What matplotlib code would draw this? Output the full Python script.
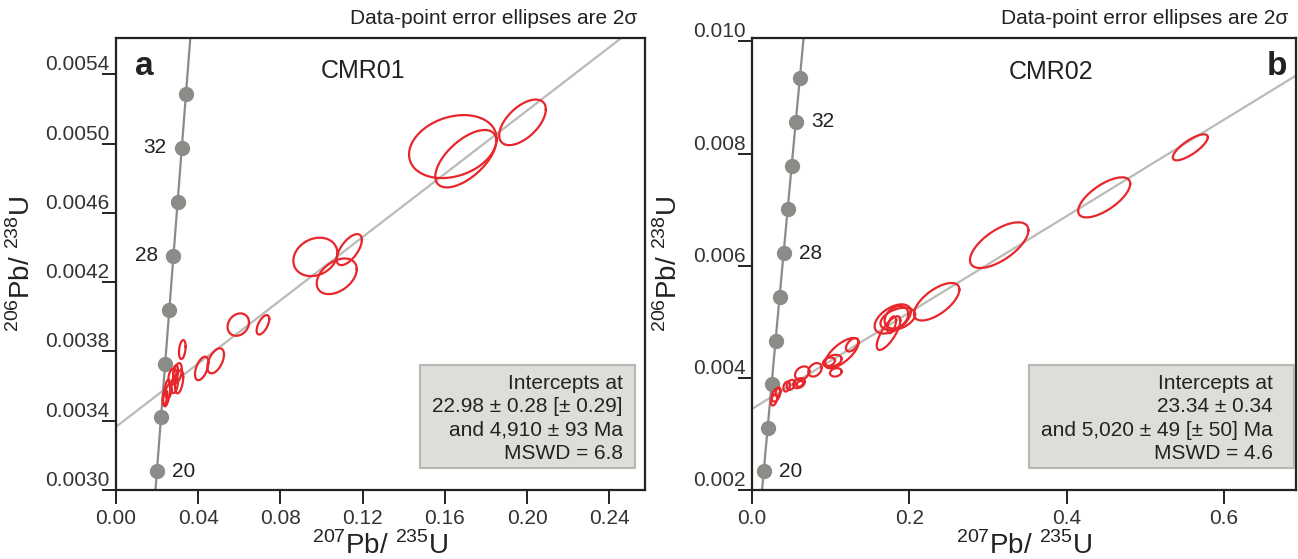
import matplotlib
matplotlib.use("Agg")
import matplotlib.pyplot as plt
import numpy as np
from matplotlib.ticker import FormatStrFormatter
from matplotlib.patches import Rectangle

plt.rcParams['font.family'] = ['Liberation Sans', 'DejaVu Sans']
plt.rcParams['mathtext.fontset'] = 'custom'
plt.rcParams['mathtext.rm'] = 'Liberation Sans'

# ---- panel a : CMR01 ----
conc_a_x = [0.01989, 0.02190, 0.02392, 0.02594, 0.02796, 0.02999, 0.03202, 0.03405]
conc_a_y = [0.003107, 0.003419, 0.003730, 0.004041, 0.004353, 0.004665, 0.004976, 0.005288]
conc_a_ends_x = [0.01856, 0.03674]
conc_a_ends_y = [0.00290, 0.00570]
conc_a_lab_idx = [0, 4, 6]
conc_a_lab_txt = ["20", "28", "32"]
conc_a_lab_side = [1, -1, -1]
disc_a = (0.003365, 0.00913)   # intercept, slope

ell_a_x = [0.1639, 0.1702, 0.1978, 0.0970, 0.1135, 0.1074, 0.0595, 0.0715, 0.03226, 0.0485, 0.0417,
           0.0299, 0.0307, 0.0275, 0.0247, 0.0255, 0.0238, 0.0285, 0.0290]
ell_a_y = [0.004983, 0.004913, 0.005123, 0.004346, 0.004388, 0.004234, 0.003955, 0.003954, 0.003811,
           0.003746, 0.003702, 0.003675, 0.003625, 0.003654, 0.003560, 0.003569, 0.003534, 0.003610, 0.003680]
ell_a_hx = [0.02131, 0.01484, 0.01134, 0.01071, 0.00613, 0.00973, 0.00521, 0.00307, 0.0016, 0.00404, 0.00326,
            0.0021, 0.0020, 0.0020, 0.0017, 0.0015, 0.0011, 0.0016, 0.0012]
ell_a_hy = [0.0001818, 0.0001657, 0.0001316, 0.0001108, 0.0000895, 0.0001027, 0.0000646, 0.000056, 0.0000548,
            0.0000722, 0.0000675, 0.0000577, 0.000067, 0.000048, 0.000077, 0.00004, 0.000043, 0.00005, 0.00004]
ell_a_rho = [0.25, 0.62, 0.57, 0.2, 0.63, 0.4, 0.2, 0.6, 0.3, 0.5, 0.5,
             0.4, 0.4, 0.3, 0.5, 0.3, 0.4, 0.3, 0.2]

# ---- panel b : CMR02 ----
conc_b_x = [0.01488, 0.01989, 0.02493, 0.02999, 0.03507, 0.04018, 0.04532, 0.05048, 0.05566, 0.06087]
conc_b_y = [0.002330, 0.003107, 0.003886, 0.004665, 0.005444, 0.006224, 0.007005, 0.007786, 0.008568, 0.009351]
conc_b_ends_x = [0.01213, 0.06655]
conc_b_ends_y = [0.00190, 0.01020]
conc_b_lab_idx = [0, 5, 8]
conc_b_lab_txt = ["20", "28", "32"]
conc_b_lab_side = [1, 1, 1]
disc_b = (0.003446, 0.008593)

ell_b_x = [0.5573, 0.4478, 0.3143, 0.2348, 0.1789, 0.1854, 0.1837, 0.1736, 0.1776, 0.1140, 0.1274, 0.1034,
           0.0979, 0.1066, 0.0801, 0.0638, 0.0441, 0.0494, 0.0598, 0.0610, 0.0305, 0.0280, 0.0330]
ell_b_y = [0.008111, 0.007218, 0.006366, 0.005357, 0.005050, 0.005050, 0.005080, 0.004798, 0.004946, 0.004441,
           0.004589, 0.004307, 0.004286, 0.004098, 0.004143, 0.004084, 0.003845, 0.003875, 0.003905, 0.003893,
           0.003696, 0.003607, 0.003750]
ell_b_hx = [0.02225, 0.03306, 0.03713, 0.02886, 0.0230, 0.0220, 0.0150, 0.0150, 0.0055, 0.0215, 0.0079, 0.0106,
            0.0076, 0.0074, 0.0085, 0.0091, 0.0042, 0.0053, 0.0074, 0.0040, 0.0055, 0.0040, 0.0030]
ell_b_hy = [0.000232, 0.000357, 0.000407, 0.000334, 0.000260, 0.000200, 0.000200, 0.000300, 0.000150, 0.000270,
            0.000119, 0.000104, 0.000077, 0.000075, 0.00012, 0.00012, 0.000089, 0.000089, 0.000089, 0.00005,
            0.00012, 0.00010, 0.00008]
ell_b_rho = [0.78, 0.68, 0.65, 0.65, 0.5, 0.4, 0.3, 0.75, 0.5, 0.7, 0.5, 0.3,
             0.3, 0.2, 0.3, 0.3, 0.3, 0.3, 0.3, 0.3, 0.4, 0.4, 0.4]

box_a = "Intercepts at\n22.98 ± 0.28 [± 0.29]\nand 4,910 ± 93 Ma\nMSWD = 6.8"
box_b = "Intercepts at\n23.34 ± 0.34\nand 5,020 ± 49 [± 50] Ma\nMSWD = 4.6"

RED = '#e8262b'
CONC = '#8a8c88'
DISC = '#b9bcb5'
DARK = '#222222'


def draw_panel(ax, cx, cy, ends_x, ends_y, lab_idx, lab_txt, lab_side, disc,
               ex, ey, ehx, ehy, erho, box_txt, box_x0, box_x1):
    ax.axline((0, disc[0]), slope=disc[1], color=DISC, lw=1.6, zorder=1)
    lx = np.concatenate([[ends_x[0]], cx, [ends_x[1]]])
    ly = np.concatenate([[ends_y[0]], cy, [ends_y[1]]])
    ax.plot(lx, ly, color=CONC, lw=1.6, zorder=2)
    ax.plot(cx, cy, 'o', color=CONC, ms=10, zorder=3)
    for i, t, s in zip(lab_idx, lab_txt, lab_side):
        ax.annotate(t, (cx[i], cy[i]), xytext=(s * 11, 0), textcoords='offset points',
                    ha='left' if s > 0 else 'right', va='center', fontsize=15, color=DARK)
    tt = np.linspace(0, 2 * np.pi, 120)
    for x, y, hx, hy, r in zip(ex, ey, ehx, ehy, erho):
        px = x + hx * np.cos(tt)
        py = y + hy * (r * np.cos(tt) + np.sqrt(1 - r * r) * np.sin(tt))
        ax.plot(px, py, color=RED, lw=1.6, zorder=4)
    ax.add_patch(Rectangle((box_x0, 0.049), box_x1 - box_x0, 0.228, transform=ax.transAxes,
                           facecolor='#dcdfd9', edgecolor='#b5b9b2', lw=1.5, zorder=5))
    ax.text(0.958, 0.158, box_txt, transform=ax.transAxes, ha='right', va='center',
            multialignment='right', fontsize=15, color=DARK, linespacing=1.28, zorder=6)
    ax.text(0.985, 1.044, "Data-point error ellipses are 2σ", transform=ax.transAxes,
            ha='right', va='center', fontsize=15, color=DARK)
    for sp in ax.spines.values():
        sp.set_linewidth(1.6)
        sp.set_color(DARK)
    ax.tick_params(axis='both', direction='out', length=10, width=1.4, color=DARK,
                   labelsize=15, labelcolor='#333333')
    ax.tick_params(axis='y', pad=-5.5)
    ax.tick_params(axis='x', pad=4)
    for lab in ax.get_yticklabels():
        lab.set_verticalalignment('bottom')
    ax.set_xlabel(r'$^{207}$Pb/ $^{235}$U', fontsize=20, color=DARK, labelpad=2)
    ax.set_ylabel(r'$^{206}$Pb/ $^{238}$U', fontsize=20, color=DARK, labelpad=7)


fig = plt.figure(figsize=(12.98, 5.59), dpi=100)
axA = fig.add_axes([116 / 1298, 69 / 559, 529 / 1298, 452 / 559])
axB = fig.add_axes([752 / 1298, 69 / 559, 544 / 1298, 452 / 559])

axA.set_xlim(0, 0.2574)
axA.set_ylim(0.0030, 0.00561)
axA.set_xticks(np.arange(0, 0.25, 0.04))
axA.set_yticks(np.arange(0.0030, 0.00545, 0.0004))
axA.xaxis.set_major_formatter(FormatStrFormatter('%.2f'))
axA.yaxis.set_major_formatter(FormatStrFormatter('%.4f'))

axB.set_xlim(0, 0.6917)
axB.set_ylim(0.002, 0.01006)
axB.set_xticks([0.0, 0.2, 0.4, 0.6])
axB.set_yticks([0.002, 0.004, 0.006, 0.008, 0.010])
axB.xaxis.set_major_formatter(FormatStrFormatter('%.1f'))
axB.yaxis.set_major_formatter(FormatStrFormatter('%.3f'))

draw_panel(axA, conc_a_x, conc_a_y, conc_a_ends_x, conc_a_ends_y, conc_a_lab_idx, conc_a_lab_txt,
           conc_a_lab_side, disc_a, ell_a_x, ell_a_y, ell_a_hx, ell_a_hy, ell_a_rho, box_a, 0.575, 0.981)
draw_panel(axB, conc_b_x, conc_b_y, conc_b_ends_x, conc_b_ends_y, conc_b_lab_idx, conc_b_lab_txt,
           conc_b_lab_side, disc_b, ell_b_x, ell_b_y, ell_b_hx, ell_b_hy, ell_b_rho, box_b, 0.509, 0.996)

axA.text(0.035, 0.918, "a", transform=axA.transAxes, fontsize=24, fontweight='bold', color=DARK)
axA.text(0.467, 0.927, "CMR01", transform=axA.transAxes, ha='center', va='center', fontsize=18, color=DARK)
axB.text(0.983, 0.918, "b", transform=axB.transAxes, ha='right', fontsize=24, fontweight='bold', color=DARK)
axB.text(0.55, 0.925, "CMR02", transform=axB.transAxes, ha='center', va='center', fontsize=18, color=DARK)

fig.savefig("out.png", dpi=100)
